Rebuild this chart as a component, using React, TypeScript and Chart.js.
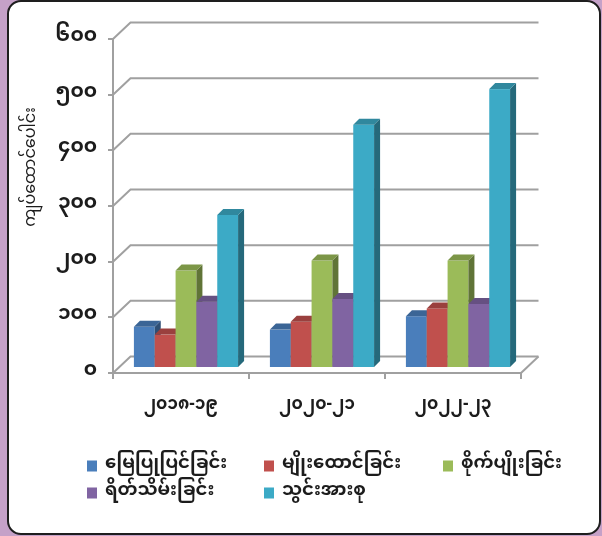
import React, { useEffect, useRef } from 'react';
import { Chart, registerables } from 'chart.js';

Chart.register(...registerables);

// ---- data ----
const categories = ['၂၀၁၈-၁၉', '၂၀၂၀-၂၁', '၂၀၂၂-၂၃'];
const seriesNames = ['မြေပြုပြင်ခြင်း', 'မျိုးထောင်ခြင်း', 'စိုက်ပျိုးခြင်း', 'ရိတ်သိမ်းခြင်း', 'သွင်းအားစု'];
const landPrep = [74, 69, 93];
const seedRaising = [60, 83, 107];
const planting = [175, 193, 193];
const harvesting = [119, 124, 115];
const inputs = [275, 437, 501];
const yTickLabels = ['၀', '၁၀၀', '၂၀၀', '၃၀၀', '၄၀၀', '၅၀၀', '၆၀၀'];
const yTitle = 'ကျပ်ထောင်ပေါင်း';
const seriesColors = ['#4a7ebb', '#c0504d', '#9bbb59', '#8064a2', '#3caac6'];

const FONT = "'Noto Sans Myanmar', 'Padauk', 'Myanmar Text', 'Noto Sans', 'DejaVu Sans', sans-serif";
const GRID = '#a0a0a0';
const TEXT = '#1c1c1c';
const DX = 17.5;
const DY = -16.5;
const BOX = 5; // bar plane offset
const BDX = 6;
const BDY = -6;

function shade(hex: string, f: number) {
  const n = parseInt(hex.slice(1), 16);
  const r = Math.round(((n >> 16) & 255) * f);
  const g = Math.round(((n >> 8) & 255) * f);
  const b = Math.round((n & 255) * f);
  return `rgb(${r},${g},${b})`;
}

const threeD = {
  id: 'threeD',
  beforeDatasetsDraw(chart: any) {
    const ctx = chart.ctx;
    const { left, right } = chart.chartArea;
    const ys = chart.scales.y;
    ctx.save();
    ctx.strokeStyle = GRID;
    ctx.lineWidth = 2;
    ys.ticks.forEach((t: any) => {
      const py = ys.getPixelForValue(t.value);
      ctx.beginPath();
      ctx.moveTo(left, py);
      ctx.lineTo(left + DX, py + DY);
      ctx.lineTo(right + DX, py + DY);
      ctx.stroke();
    });
    const p0 = ys.getPixelForValue(0);
    ctx.beginPath();
    ctx.moveTo(right, p0);
    ctx.lineTo(right + DX, p0 + DY);
    ctx.stroke();

    const bars: any[] = [];
    chart.data.datasets.forEach((ds: any, i: number) => {
      const meta = chart.getDatasetMeta(i);
      meta.data.forEach((el: any) => bars.push({ el, color: ds.backgroundColor }));
    });
    bars.sort((a, b) => a.el.x - b.el.x);
    bars.forEach(({ el, color }) => {
      const x0 = el.x - el.width / 2 + BOX;
      const x1 = x0 + el.width;
      const yt = el.y - BOX;
      const yb = el.base - BOX;
      ctx.fillStyle = color;
      ctx.fillRect(x0, yt, el.width, yb - yt);
      ctx.fillStyle = shade(color, 0.62);
      ctx.beginPath();
      ctx.moveTo(x1, yb);
      ctx.lineTo(x1 + BDX, yb + BDY);
      ctx.lineTo(x1 + BDX, yt + BDY);
      ctx.lineTo(x1, yt);
      ctx.closePath();
      ctx.fill();
      ctx.fillStyle = shade(color, 0.8);
      ctx.beginPath();
      ctx.moveTo(x0, yt);
      ctx.lineTo(x0 + BDX, yt + BDY);
      ctx.lineTo(x1 + BDX, yt + BDY);
      ctx.lineTo(x1, yt);
      ctx.closePath();
      ctx.fill();
    });
    ctx.restore();
    return false;
  },
  afterDraw(chart: any) {
    const ctx = chart.ctx;
    ctx.save();
    // y title
    ctx.translate(33, 167);
    ctx.rotate(-Math.PI / 2);
    ctx.fillStyle = TEXT;
    ctx.font = `16px ${FONT}`;
    ctx.textAlign = 'center';
    ctx.textBaseline = 'middle';
    ctx.fillText(yTitle, 0, 0);
    ctx.restore();

    // legend
    ctx.save();
    const cols = [87, 264, 443];
    const rows = [466, 493];
    ctx.font = `bold 18px ${FONT}`;
    ctx.textBaseline = 'middle';
    ctx.textAlign = 'left';
    chart.data.datasets.forEach((ds: any, i: number) => {
      const cx = cols[i % 3];
      const cy = rows[Math.floor(i / 3)];
      ctx.fillStyle = ds.backgroundColor;
      ctx.fillRect(cx, cy - 5.5, 10, 11);
      ctx.fillStyle = TEXT;
      ctx.fillText(ds.label, cx + 18, cy);
    });
    ctx.restore();
  },
};

export default function App() {
  const ref = useRef<HTMLCanvasElement>(null);
  useEffect(() => {
    if (!ref.current) return;
    const seriesValues = [landPrep, seedRaising, planting, harvesting, inputs];
    const chart = new Chart(ref.current, {
      type: 'bar',
      data: {
        labels: categories,
        datasets: seriesNames.map((name, i) => ({
          label: name,
          data: seriesValues[i],
          backgroundColor: seriesColors[i],
          barPercentage: 1,
          categoryPercentage: 0.766,
        })),
      },
      options: {
        animation: false,
        responsive: false,
        events: [],
        layout: { padding: { left: 0, top: 39, right: 81, bottom: 0 } },
        plugins: { legend: { display: false }, tooltip: { enabled: false } },
        scales: {
          x: {
            afterFit: (s: any) => { s.height = 163; },
            grid: { display: true, drawOnChartArea: false, drawTicks: true, tickLength: 6, offset: true, color: GRID, lineWidth: 2 },
            border: { display: true, color: GRID, width: 2 },
            ticks: { color: TEXT, font: { family: FONT, size: 17, weight: 'bold' }, padding: 18, maxRotation: 0 },
          },
          y: {
            min: 0,
            max: 600,
            afterFit: (s: any) => { s.width = 113; },
            grid: { display: true, drawOnChartArea: false, drawTicks: true, tickLength: 5, color: GRID, lineWidth: 2 },
            border: { display: true, color: GRID, width: 2 },
            ticks: {
              stepSize: 100,
              color: TEXT,
              font: { family: FONT, size: 20, weight: 'bold' },
              padding: 11,
              callback: (_v: any, i: number) => yTickLabels[i],
            },
          },
        },
      },
      plugins: [threeD],
    });
    return () => chart.destroy();
  }, []);

  return (
    <div style={{ position: 'fixed', left: 0, top: 0, width: 602, height: 536, background: '#c5a1c8', overflow: 'hidden' }}>
      <div style={{ position: 'absolute', left: 7, top: 0, width: 594, height: 535, boxSizing: 'border-box', border: '2.5px solid #1e1e1e', borderRadius: 14, background: '#ffffff' }} />
      <canvas ref={ref} width={602} height={536} style={{ position: 'absolute', left: 0, top: 0, display: 'block' }} />
    </div>
  );
}
